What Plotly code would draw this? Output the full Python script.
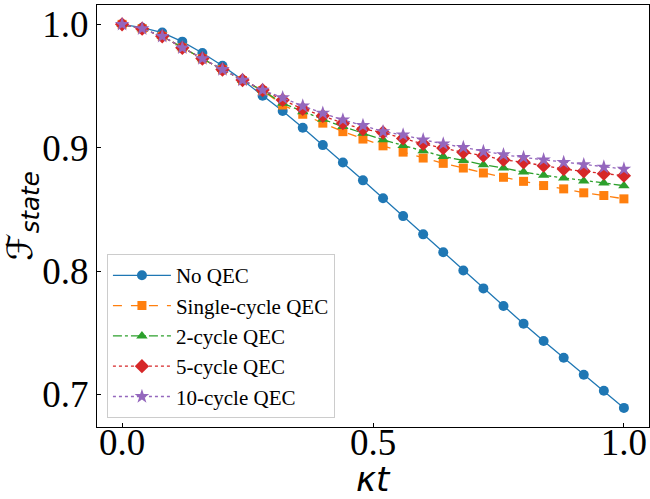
import plotly.graph_objects as go

kt = [round(i * 0.04, 2) for i in range(26)]

no_qec = [1.0, 0.9973, 0.9933, 0.986, 0.9768, 0.9664, 0.9548, 0.9421, 0.9298, 0.9161,
          0.9021, 0.888, 0.8735, 0.859, 0.8445, 0.8297, 0.8152, 0.8004, 0.7859, 0.7716,
          0.7573, 0.7433, 0.7296, 0.7159, 0.7029, 0.689]
single_qec = [1.0, 0.9965, 0.9903, 0.9809, 0.9721, 0.9632, 0.9545, 0.9462, 0.9346, 0.9271,
              0.9199, 0.913, 0.907, 0.9015, 0.8964, 0.8916, 0.8873, 0.8835, 0.8795, 0.876,
              0.8727, 0.8693, 0.8666, 0.8634, 0.8612, 0.8585]
two_qec = [1.0, 0.9965, 0.9903, 0.981, 0.9722, 0.9633, 0.9547, 0.9465, 0.936, 0.9292,
           0.923, 0.9171, 0.9118, 0.9064, 0.9018, 0.8975, 0.8929, 0.8897, 0.8862, 0.8835,
           0.8802, 0.8776, 0.8754, 0.873, 0.8714, 0.8692]
five_qec = [1.0, 0.9965, 0.9903, 0.981, 0.9723, 0.9634, 0.9548, 0.9467, 0.9387, 0.9314,
            0.9258, 0.9199, 0.915, 0.9123, 0.9075, 0.9031, 0.8997, 0.8962, 0.8935, 0.8902,
            0.8881, 0.8854, 0.8827, 0.8808, 0.8789, 0.8773]
ten_qec = [1.0, 0.9965, 0.9903, 0.981, 0.9723, 0.9634, 0.9548, 0.9467, 0.9405, 0.9338,
           0.928, 0.9225, 0.918, 0.913, 0.9104, 0.9064, 0.9031, 0.9002, 0.8969, 0.8943,
           0.8921, 0.8902, 0.8881, 0.8862, 0.8843, 0.8827]

series = [
    ("No QEC", no_qec, "#1f77b4", "solid", "circle", 10),
    ("Single-cycle QEC", single_qec, "#ff7f0e", "dash", "square", 9),
    ("2-cycle QEC", two_qec, "#2ca02c", "dashdot", "triangle-up", 10),
    ("5-cycle QEC", five_qec, "#d62728", "dot", "diamond", 11),
    ("10-cycle QEC", ten_qec, "#9467bd", "dot", "star", 11),
]

fig = go.Figure()
for name, ys, color, dash, sym, size in series:
    fig.add_trace(go.Scatter(
        x=kt, y=ys, name=name, mode="lines+markers",
        line=dict(color=color, width=1.3, dash=dash),
        marker=dict(symbol=sym, size=size, color=color, line=dict(width=0)),
    ))

axis_common = dict(
    showline=True, linecolor="black", linewidth=1.2, mirror=True,
    ticks="inside", ticklen=4, tickcolor="black", showgrid=False, zeroline=False,
    tickfont=dict(family="Liberation Serif", size=37, color="black"),
)

fig.update_layout(
    width=650, height=499,
    margin=dict(l=97, r=1, t=5, b=72),
    plot_bgcolor="white", paper_bgcolor="white",
    xaxis=dict(range=[-0.05, 1.05], tickvals=[0, 0.5, 1.0], ticktext=["0.0", "0.5", "1.0"],
               ticklabelstandoff=-18,
               **axis_common),
    yaxis=dict(range=[0.6735, 1.0157], tickvals=[0.7, 0.8, 0.9, 1.0],
               ticktext=["0.7", "0.8", "0.9", "1.0"],
               title=dict(text="<i>ℱ<sub>state</sub></i>",
                          font=dict(family="DejaVu Sans", size=35, color="black"), standoff=4),
               **axis_common),
    legend=dict(x=0.018, y=0.021, xanchor="left", yanchor="bottom",
                bgcolor="rgba(255,255,255,0.8)", bordercolor="#cccccc", borderwidth=1,
                font=dict(family="Liberation Serif", size=21, color="black"),
                itemwidth=58, tracegroupgap=0),
    showlegend=True,
    annotations=[dict(text="<i>κt</i>", xref="x", x=0.5, yref="paper", y=0,
                      yanchor="bottom", yshift=-72, height=36, valign="middle",
                      showarrow=False,
                      font=dict(family="DejaVu Sans", size=34, color="black"))],
)

fig.write_html("out.html")
